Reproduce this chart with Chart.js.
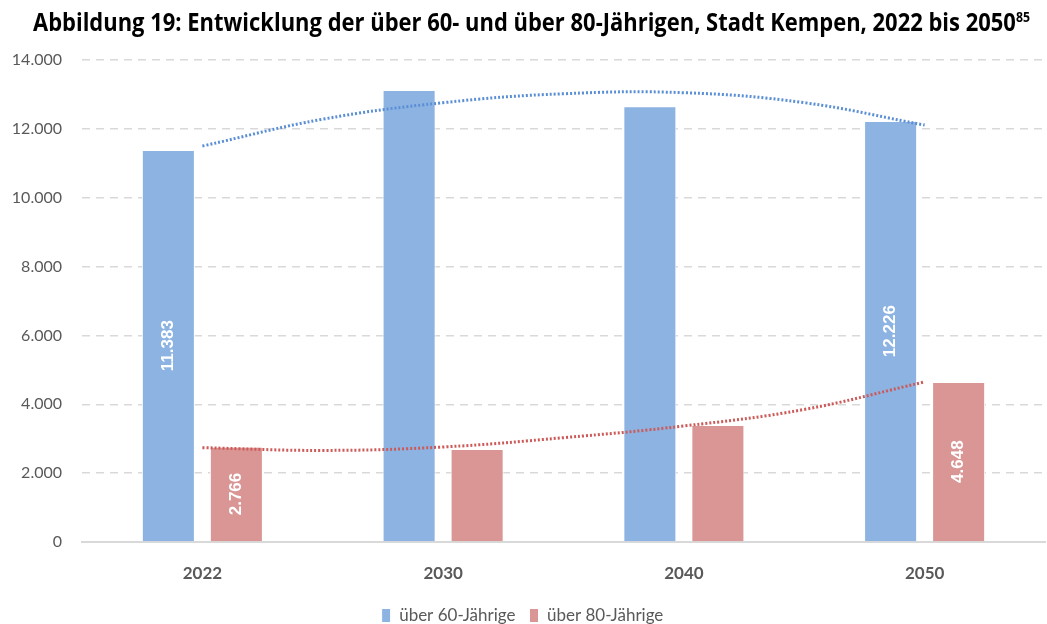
<!DOCTYPE html>
<html>
<head>
<meta charset="utf-8">
<script src="https://cdn.jsdelivr.net/npm/chart.js@4/dist/chart.umd.min.js"></script>
<style>
  body { margin: 0; background: #fff; }
  #wrap { position: relative; width: 1047px; height: 624px; }
  #title {
    position: absolute; left: 33px; top: 4px; white-space: nowrap;
    font-family: "Open Sans", sans-serif; font-weight: bold; font-size: 25px;
    color: #000; transform-origin: 0 0; z-index: 2;
  }
  #title sup { font-size: 14px; }
  canvas { position: absolute; left: 0; top: 0; }
</style>
</head>
<body>
<div id="wrap">
  <div id="title">Abbildung 19: Entwicklung der über 60- und über 80-Jährigen, Stadt Kempen, 2022 bis 2050<sup>85</sup></div>
  <canvas id="myChart" width="1047" height="624"></canvas>
</div>
<script>
const years = ['2022', '2030', '2040', '2050'];
const over60 = [11383, 13130, 12660, 12226];
const over80 = [2766, 2700, 3400, 4648];
const labelled = [0, 3]; // only these bars carry a value label

// dotted trend lines (x = position of the year: 0 = 2022 ... 3 = 2050)
const trendPos = [0, 0.5, 1, 1.5, 2, 2.5, 3];
const trend60 = [11500, 12280, 12760, 13020, 13050, 12760, 12110];
const trend80 = [2740, 2660, 2760, 3030, 3370, 3850, 4650];

const blue = '#8db3e2';
const red = '#d99694';

const fmt = v => v.toLocaleString('de-DE');

// squeeze the title into the width it has in the original
const t = document.getElementById('title');
t.style.transform = 'scaleX(' + (997 / t.offsetWidth) + ')';

const barLabels = {
  id: 'barLabels',
  afterDatasetsDraw(chart) {
    const ctx = chart.ctx;
    [0, 1].forEach(di => {
      const meta = chart.getDatasetMeta(di);
      labelled.forEach(i => {
        const bar = meta.data[i];
        const v = chart.data.datasets[di].data[i].y;
        ctx.save();
        ctx.translate(bar.x, (bar.y + bar.base) / 2);
        ctx.rotate(-Math.PI / 2);
        ctx.fillStyle = '#fff';
        ctx.font = 'bold 17px "Liberation Sans", Arial, sans-serif';
        ctx.textAlign = 'center';
        ctx.textBaseline = 'middle';
        ctx.fillText(fmt(v), 0, 0);
        ctx.restore();
      });
    });
  }
};

function barSet(label, values, color) {
  return {
    label: label,
    data: values.map((v, i) => ({x: i, y: v})),
    backgroundColor: color,
    borderColor: '#fff',
    borderWidth: 1,
    categoryPercentage: 0.565,
    barPercentage: 0.78,
    order: 2
  };
}

function trendSet(label, values, color) {
  return {
    type: 'line',
    label: label,
    data: trendPos.map((x, i) => ({x: x, y: values[i]})),
    borderColor: color,
    borderWidth: 3,
    borderDash: [2, 2],
    pointRadius: 0,
    tension: 0.4,
    fill: false,
    order: 1
  };
}

const config = {
  type: 'bar',
  data: {
    datasets: [
      barSet('über 60-Jährige', over60, blue),
      barSet('über 80-Jährige', over80, red),
      trendSet('trend60', trend60, '#5b8fd5'),
      trendSet('trend80', trend80, '#cc5a58')
    ]
  },
  options: {
    responsive: false,
    animation: false,
    layout: { padding: { top: 60, right: 2, left: 0, bottom: -10 } },
    scales: {
      x: {
        type: 'linear',
        offset: false,
        min: -0.5,
        max: 3.5,
        afterBuildTicks(scale) { scale.ticks = years.map((y, i) => ({value: i})); },
        afterFit(scale) { scale.height = 51; },
        grid: { display: false },
        border: { color: '#d9d9d9', width: 2 },
        ticks: {
          color: '#595959',
          padding: 13,
          font: { family: 'Lato', size: 17, weight: 'bold' },
          callback: v => years[v]
        }
      },
      y: {
        min: 0,
        max: 14000,
        afterFit(scale) { scale.width = 82; },
        border: { display: false, dash: [8, 6] },
        grid: { color: '#d9d9d9', lineWidth: 1.5, drawTicks: false },
        ticks: {
          stepSize: 2000,
          color: '#595959',
          padding: 20,
          font: { family: 'Lato', size: 16 },
          callback: v => fmt(v)
        }
      }
    },
    plugins: {
      legend: {
        position: 'bottom',
        labels: {
          boxWidth: 9,
          boxHeight: 14,
          padding: 14,
          color: '#595959',
          font: { family: 'Lato', size: 17 },
          filter: item => item.datasetIndex < 2
        }
      },
      tooltip: { enabled: false }
    }
  },
  plugins: [barLabels]
};

const myChart = new Chart(document.getElementById('myChart'), config);
</script>
</body>
</html>
